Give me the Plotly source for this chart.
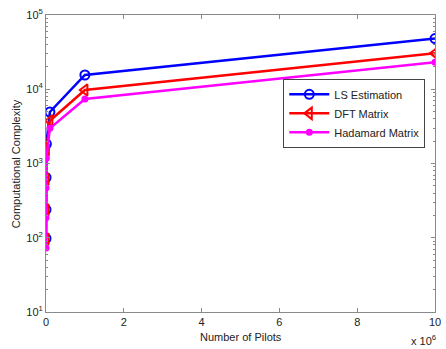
import plotly.graph_objects as go

pilots = [10, 100, 1000, 10000, 100000, 1000000, 10000000]
ls_est = [98, 240, 648, 1830, 4940, 15560, 48200]
dft = [96, 237, 612, 1520, 3770, 9770, 30500]
hadamard = [73, 186, 472, 1175, 2980, 7400, 23100]

x_tickvals = [0, 2e6, 4e6, 6e6, 8e6, 1e7]
x_ticktext = ["0", "2", "4", "6", "8", "10"]
y_tickvals = [10, 100, 1000, 10000, 100000]
y_ticktext = ["10<sup>1</sup>", "10<sup>2</sup>", "10<sup>3</sup>", "10<sup>4</sup>", "10<sup>5</sup>"]

font = "Liberation Sans, Arial, sans-serif"

fig = go.Figure()
fig.add_trace(go.Scatter(x=pilots, y=ls_est, name="LS Estimation", mode="lines+markers",
                         line=dict(color="#0000FF", width=2.5),
                         marker=dict(symbol="circle-open", size=9, color="#0000FF", line=dict(width=2))))
fig.add_trace(go.Scatter(x=pilots, y=dft, name="DFT Matrix", mode="lines+markers",
                         line=dict(color="#FF0000", width=2.5),
                         marker=dict(symbol="triangle-left-open", size=10, color="#FF0000", line=dict(width=2))))
fig.add_trace(go.Scatter(x=pilots, y=hadamard, name="Hadamard Matrix", mode="lines+markers",
                         line=dict(color="#FF00FF", width=2.5),
                         marker=dict(symbol="circle", size=7, color="#FF00FF")))

axis_common = dict(showline=True, linecolor="#8a8a8a", linewidth=1, mirror="ticks",
                   ticks="inside", tickcolor="#8a8a8a", showgrid=False, zeroline=False,
                   ticklabeloverflow="allow",
                   tickfont=dict(family=font, size=11, color="#222222"))

fig.update_xaxes(range=[0, 1e7], tickvals=x_tickvals, ticktext=x_ticktext, ticklen=4, **axis_common)
fig.update_yaxes(type="log", range=[1, 5], tickvals=y_tickvals, ticktext=y_ticktext, ticklen=4,
                 minor=dict(ticks="inside", ticklen=2, dtick="D1", tickcolor="#8a8a8a", showgrid=False),
                 **axis_common)

fig.update_layout(
    width=446, height=349,
    margin=dict(l=46, r=5, t=15, b=37),
    paper_bgcolor="white", plot_bgcolor="white",
    font=dict(family=font, size=11, color="#222222"),
    showlegend=True,
    legend=dict(x=0.61, y=0.785, xanchor="left", yanchor="top",
                bgcolor="white", bordercolor="#444444", borderwidth=1,
                font=dict(family=font, size=11, color="#222222"),
                tracegroupgap=0, itemwidth=40),
    annotations=[
        dict(text="Number of Pilots", xref="paper", yref="paper", x=0.5, y=-0.085,
             xanchor="center", yanchor="middle", showarrow=False, font=dict(size=11)),
        dict(text="Computational Complexity", xref="paper", yref="paper", x=-0.078, y=0.5,
             textangle=-90, xanchor="center", yanchor="middle", showarrow=False, font=dict(size=11)),
        dict(text="x 10<sup>6</sup>", xref="paper", yref="paper", x=0.97, y=-0.095,
             xanchor="center", yanchor="middle", showarrow=False, font=dict(size=11)),
    ],
)

fig.write_html("out.html", config={"displayModeBar": False},
               post_script="document.body.style.margin='0';document.body.style.overflow='hidden';")
